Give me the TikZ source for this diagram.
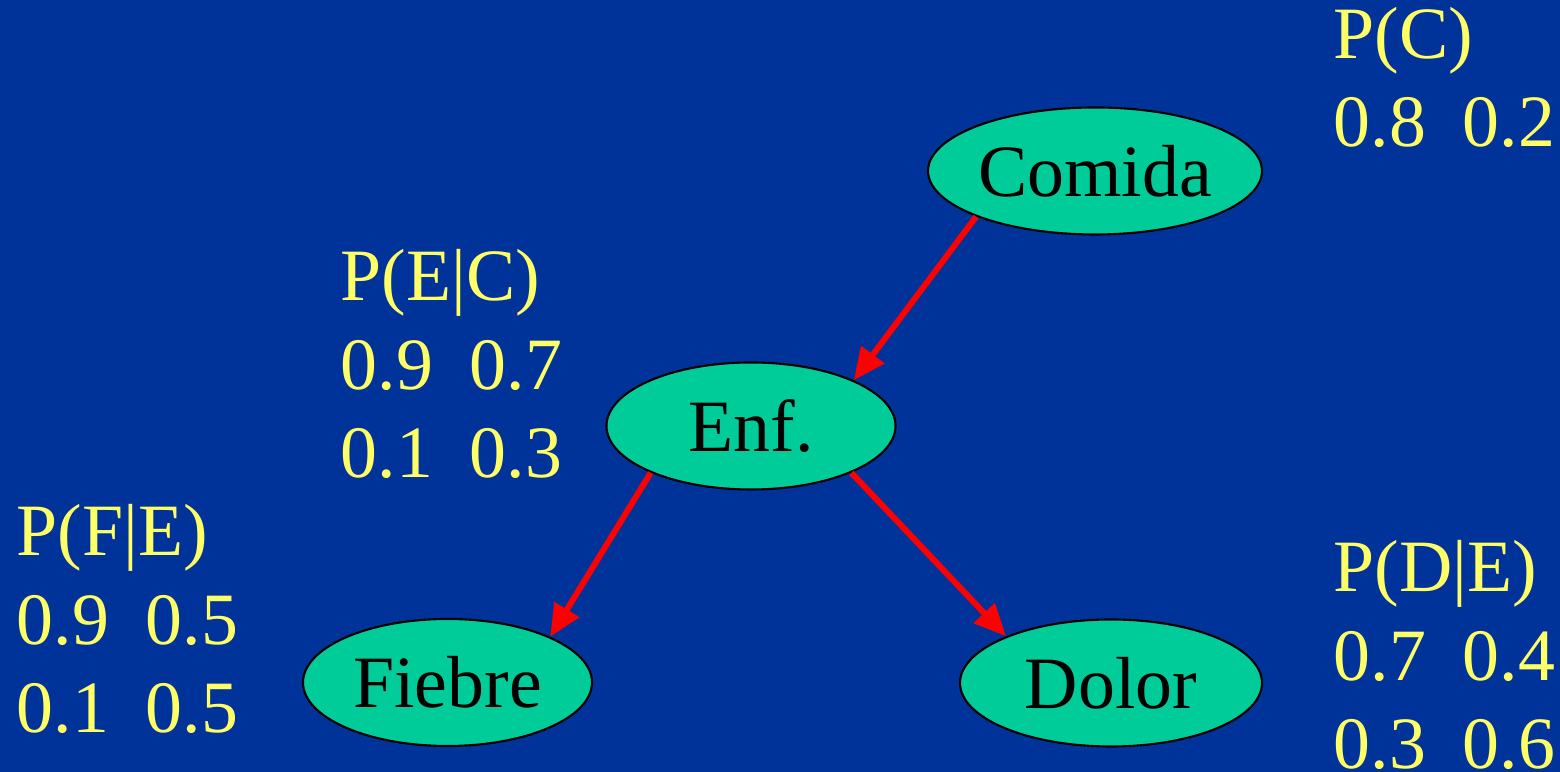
\documentclass[tikz,border=0pt]{standalone}
\usepackage{fontspec}
\setmainfont{Liberation Serif}
\usetikzlibrary{arrows.meta,shapes.geometric}
\definecolor{fondo}{HTML}{003399}
\definecolor{nodo}{HTML}{00CC99}
\definecolor{tabla}{HTML}{FFFF66}
\begin{document}
\begin{tikzpicture}[
   var/.style={ellipse, draw=black, semithick, fill=nodo, inner sep=0pt,
               minimum height=1.27cm, font=\fontsize{21}{25}\selectfont},
   cpt/.style={anchor=base west, align=left, inner sep=0pt, text=tabla,
               font=\fontsize{21}{25.2}\selectfont},
   arco/.style={-{Triangle[length=0.32cm,width=0.28cm]}, red, line width=0.06cm}]

\fill[fondo] (0,0) rectangle (15.6,7.72);
\useasboundingbox (0,0) rectangle (15.6,7.72);

\node[var, minimum width=3.34cm] (comida) at (10.95,6.01) {Comida};
\node[var, minimum width=2.89cm] (enf) at (7.51,3.46) {Enf.};
\node[var, minimum width=2.89cm] (fiebre) at (4.475,0.895) {Fiebre};
\node[var, minimum width=3.02cm] (dolor) at (11.11,0.89) {Dolor};

% tablas de probabilidad (base = ultima linea)
\node[cpt] (pc) at (13.33,6.25) {P(C)\\0.8~~0.2};
\node[cpt] (pec) at (3.40,2.94) {P(E|C)\\0.9~~0.7\\0.1~~0.3};
\node[cpt] (pfe) at (0.16,0.39) {P(F|E)\\0.9~~0.5\\0.1~~0.5};
\node[cpt] (pde) at (13.33,0.03) {P(D|E)\\0.7~~0.4\\0.3~~0.6};

\draw[arco] (comida.201) -- (enf.24);
\draw[arco] (enf.205) -- (fiebre.24);
\draw[arco] (enf.-25) -- (dolor.156);

\end{tikzpicture}
\end{document}
